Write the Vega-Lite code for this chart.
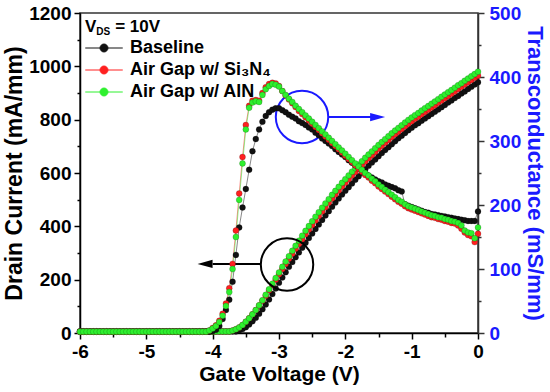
{
"$schema": "https://vega.github.io/schema/vega-lite/v6.json",
"width": 398, "height": 320,
"autosize": {"type": "none"},
"padding": {"left": 80, "top": 13, "right": 72, "bottom": 59},
"config": {"font": "Liberation Sans", "view": {"stroke": "#333", "strokeWidth": 1.5}},
"datasets": {
"id": [
{"v":-6,"a":6,"b":6,"c":6},{"v":-5.95,"a":6,"b":6,"c":6},{"v":-5.9,"a":6,"b":6,"c":6},{"v":-5.85,"a":6,"b":6,"c":6},{"v":-5.8,"a":6,"b":6,"c":6},{"v":-5.75,"a":6,"b":6,"c":6},{"v":-5.7,"a":6,"b":6,"c":6},{"v":-5.65,"a":6,"b":6,"c":6},{"v":-5.6,"a":6,"b":6,"c":6},{"v":-5.55,"a":6,"b":6,"c":6},
{"v":-5.5,"a":6,"b":6,"c":6},{"v":-5.45,"a":6,"b":6,"c":6},{"v":-5.4,"a":6,"b":6,"c":6},{"v":-5.35,"a":6,"b":6,"c":6},{"v":-5.3,"a":6,"b":6,"c":6},{"v":-5.25,"a":6,"b":6,"c":6},{"v":-5.2,"a":6,"b":6,"c":6},{"v":-5.15,"a":6,"b":6,"c":6},{"v":-5.1,"a":6,"b":6,"c":6},{"v":-5.05,"a":6,"b":6,"c":6},
{"v":-5,"a":6,"b":6,"c":6},{"v":-4.95,"a":6,"b":6,"c":6},{"v":-4.9,"a":6,"b":6,"c":6},{"v":-4.85,"a":6,"b":6,"c":6},{"v":-4.8,"a":6,"b":6,"c":6},{"v":-4.75,"a":6,"b":6,"c":6},{"v":-4.7,"a":6,"b":6,"c":6},{"v":-4.65,"a":6,"b":6,"c":6},{"v":-4.6,"a":6,"b":6,"c":6},{"v":-4.55,"a":6,"b":6,"c":6},
{"v":-4.5,"a":6,"b":6,"c":6},{"v":-4.45,"a":6,"b":6,"c":6},{"v":-4.4,"a":6,"b":6,"c":6},{"v":-4.35,"a":6,"b":6,"c":6},{"v":-4.3,"a":6,"b":6,"c":6},{"v":-4.25,"a":6,"b":6,"c":6},{"v":-4.2,"a":6,"b":6,"c":6},{"v":-4.15,"a":6,"b":6,"c":6},{"v":-4.1,"a":6,"b":6,"c":6},{"v":-4.05,"a":6,"b":6,"c":6},
{"v":-4,"a":6,"b":6,"c":6},{"v":-3.95,"a":6,"b":6,"c":6},{"v":-3.9,"a":6,"b":6,"c":6},{"v":-3.85,"a":6,"b":6,"c":6},{"v":-3.8,"a":6,"b":6,"c":6},{"v":-3.75,"a":6,"b":6,"c":6},{"v":-3.7,"a":6,"b":9,"c":9},{"v":-3.65,"a":6,"b":14,"c":14},{"v":-3.6,"a":10,"b":21,"c":21},{"v":-3.55,"a":15,"b":30,"c":30},
{"v":-3.5,"a":22,"b":42,"c":42},{"v":-3.45,"a":32,"b":55,"c":55},{"v":-3.4,"a":44,"b":70,"c":70},{"v":-3.35,"a":57,"b":86,"c":86},{"v":-3.3,"a":72,"b":103,"c":104},{"v":-3.25,"a":89,"b":121,"c":123},{"v":-3.2,"a":107,"b":140,"c":143},{"v":-3.15,"a":126,"b":160,"c":164},{"v":-3.1,"a":146,"b":180,"c":185},{"v":-3.05,"a":167,"b":200,"c":206},
{"v":-3,"a":188,"b":220,"c":227},{"v":-2.95,"a":208,"b":240,"c":248},{"v":-2.9,"a":228,"b":259,"c":268},{"v":-2.85,"a":248,"b":278,"c":288},{"v":-2.8,"a":266,"b":297,"c":308},{"v":-2.75,"a":284,"b":316,"c":327},{"v":-2.7,"a":302,"b":334,"c":346},{"v":-2.65,"a":320,"b":352,"c":365},{"v":-2.6,"a":338,"b":370,"c":383},{"v":-2.55,"a":356,"b":388,"c":401},
{"v":-2.5,"a":373,"b":405,"c":419},{"v":-2.45,"a":390,"b":422,"c":436},{"v":-2.4,"a":407,"b":439,"c":453},{"v":-2.35,"a":424,"b":456,"c":470},{"v":-2.3,"a":441,"b":472,"c":486},{"v":-2.25,"a":457,"b":488,"c":502},{"v":-2.2,"a":473,"b":504,"c":518},{"v":-2.15,"a":489,"b":519,"c":533},{"v":-2.1,"a":504,"b":534,"c":548},{"v":-2.05,"a":519,"b":549,"c":563},
{"v":-2,"a":533,"b":563,"c":577},{"v":-1.95,"a":547,"b":577,"c":591},{"v":-1.9,"a":561,"b":591,"c":605},{"v":-1.85,"a":575,"b":604,"c":618},{"v":-1.8,"a":588,"b":617,"c":631},{"v":-1.75,"a":601,"b":630,"c":644},{"v":-1.7,"a":614,"b":643,"c":657},{"v":-1.65,"a":627,"b":655,"c":669},{"v":-1.6,"a":639,"b":667,"c":681},{"v":-1.55,"a":651,"b":679,"c":693},
{"v":-1.5,"a":663,"b":691,"c":705},{"v":-1.45,"a":675,"b":702,"c":716},{"v":-1.4,"a":686,"b":713,"c":727},{"v":-1.35,"a":697,"b":724,"c":738},{"v":-1.3,"a":708,"b":735,"c":749},{"v":-1.25,"a":719,"b":745,"c":759},{"v":-1.2,"a":730,"b":755,"c":769},{"v":-1.15,"a":740,"b":765,"c":779},{"v":-1.1,"a":750,"b":775,"c":789},{"v":-1.05,"a":760,"b":785,"c":799},
{"v":-1,"a":770,"b":794,"c":808},{"v":-0.95,"a":779,"b":803,"c":817},{"v":-0.9,"a":787,"b":811,"c":825},{"v":-0.85,"a":796,"b":820,"c":834},{"v":-0.8,"a":804,"b":829,"c":843},{"v":-0.75,"a":813,"b":837,"c":851},{"v":-0.7,"a":821,"b":846,"c":860},{"v":-0.65,"a":830,"b":854,"c":868},{"v":-0.6,"a":838,"b":863,"c":877},{"v":-0.55,"a":847,"b":872,"c":886},
{"v":-0.5,"a":855,"b":880,"c":894},{"v":-0.45,"a":864,"b":889,"c":903},{"v":-0.4,"a":872,"b":897,"c":911},{"v":-0.35,"a":881,"b":906,"c":920},{"v":-0.3,"a":889,"b":915,"c":929},{"v":-0.25,"a":898,"b":923,"c":937},{"v":-0.2,"a":906,"b":932,"c":946},{"v":-0.15,"a":915,"b":940,"c":954},{"v":-0.1,"a":923,"b":949,"c":963},{"v":-0.05,"a":932,"b":957,"c":971},
{"v":0,"a":940,"b":965,"c":980}
],
"gm": [
{"v":-6,"a":2,"b":2,"c":2},{"v":-5.95,"a":2,"b":2,"c":2},{"v":-5.9,"a":2,"b":2,"c":2},{"v":-5.85,"a":2,"b":2,"c":2},{"v":-5.8,"a":2,"b":2,"c":2},{"v":-5.75,"a":2,"b":2,"c":2},{"v":-5.7,"a":2,"b":2,"c":2},{"v":-5.65,"a":2,"b":2,"c":2},{"v":-5.6,"a":2,"b":2,"c":2},{"v":-5.55,"a":2,"b":2,"c":2},
{"v":-5.5,"a":2,"b":2,"c":2},{"v":-5.45,"a":2,"b":2,"c":2},{"v":-5.4,"a":2,"b":2,"c":2},{"v":-5.35,"a":2,"b":2,"c":2},{"v":-5.3,"a":2,"b":2,"c":2},{"v":-5.25,"a":2,"b":2,"c":2},{"v":-5.2,"a":2,"b":2,"c":2},{"v":-5.15,"a":2,"b":2,"c":2},{"v":-5.1,"a":2,"b":2,"c":2},{"v":-5.05,"a":2,"b":2,"c":2},
{"v":-5,"a":2,"b":2,"c":2},{"v":-4.95,"a":2,"b":2,"c":2},{"v":-4.9,"a":2,"b":2,"c":2},{"v":-4.85,"a":2,"b":2,"c":2},{"v":-4.8,"a":2,"b":2,"c":2},{"v":-4.75,"a":2,"b":2,"c":2},{"v":-4.7,"a":2,"b":2,"c":2},{"v":-4.65,"a":2,"b":2,"c":2},{"v":-4.6,"a":2,"b":2,"c":2},{"v":-4.55,"a":2,"b":2,"c":2},
{"v":-4.5,"a":2,"b":2,"c":2},{"v":-4.45,"a":2,"b":2,"c":2},{"v":-4.4,"a":2,"b":2,"c":2},{"v":-4.35,"a":2,"b":2,"c":2},{"v":-4.3,"a":2,"b":2,"c":2},{"v":-4.25,"a":2,"b":2,"c":2},{"v":-4.2,"a":2,"b":2,"c":2},{"v":-4.15,"a":2,"b":2,"c":2},{"v":-4.1,"a":2,"b":2,"c":2},{"v":-4.05,"a":2,"b":4,"c":4},
{"v":-4,"a":3,"b":8,"c":7},{"v":-3.95,"a":5,"b":12,"c":11},{"v":-3.9,"a":11,"b":19,"c":17},{"v":-3.85,"a":22,"b":30,"c":27},{"v":-3.8,"a":36,"b":46,"c":42},{"v":-3.75,"a":52,"b":70,"c":64},{"v":-3.7,"a":80,"b":108,"c":100},{"v":-3.65,"a":122,"b":160,"c":150},{"v":-3.6,"a":165,"b":218,"c":208},{"v":-3.55,"a":196,"b":275,"c":265},
{"v":-3.5,"a":225,"b":325,"c":318},{"v":-3.45,"a":255,"b":355,"c":352},{"v":-3.4,"a":284,"b":363,"c":360},{"v":-3.35,"a":303,"b":364,"c":362},{"v":-3.3,"a":318,"b":363,"c":361},{"v":-3.25,"a":330,"b":375,"c":372},{"v":-3.2,"a":339,"b":384,"c":381},{"v":-3.15,"a":345,"b":389,"c":386},{"v":-3.1,"a":349,"b":391,"c":389},{"v":-3.05,"a":351,"b":390,"c":388},
{"v":-3,"a":351,"b":386,"c":385},{"v":-2.95,"a":348,"b":378,"c":378},{"v":-2.9,"a":345,"b":371,"c":372},{"v":-2.85,"a":341,"b":365,"c":366},{"v":-2.8,"a":338,"b":359,"c":361},{"v":-2.75,"a":335,"b":353,"c":355},{"v":-2.7,"a":331,"b":347,"c":350},{"v":-2.65,"a":328,"b":342,"c":345},{"v":-2.6,"a":325,"b":337,"c":340},{"v":-2.55,"a":321,"b":332,"c":335},
{"v":-2.5,"a":318,"b":327,"c":330},{"v":-2.45,"a":313,"b":322,"c":325},{"v":-2.4,"a":309,"b":317,"c":320},{"v":-2.35,"a":304,"b":312,"c":315},{"v":-2.3,"a":300,"b":307,"c":310},{"v":-2.25,"a":296,"b":302,"c":305},{"v":-2.2,"a":292,"b":297,"c":300},{"v":-2.15,"a":287,"b":292,"c":295},{"v":-2.1,"a":283,"b":287,"c":290},{"v":-2.05,"a":279,"b":282,"c":285},
{"v":-2,"a":275,"b":277,"c":280},{"v":-1.95,"a":270,"b":272,"c":275},{"v":-1.9,"a":266,"b":267,"c":270},{"v":-1.85,"a":262,"b":262,"c":265},{"v":-1.8,"a":258,"b":257,"c":260},{"v":-1.75,"a":254,"b":252,"c":255},{"v":-1.7,"a":250,"b":247,"c":250},{"v":-1.65,"a":246,"b":243,"c":246},{"v":-1.6,"a":243,"b":238,"c":241},{"v":-1.55,"a":240,"b":234,"c":237},
{"v":-1.5,"a":237,"b":229,"c":232},{"v":-1.45,"a":235,"b":225,"c":228},{"v":-1.4,"a":232,"b":221,"c":224},{"v":-1.35,"a":230,"b":217,"c":220},{"v":-1.3,"a":228,"b":213,"c":216},{"v":-1.25,"a":226,"b":209,"c":212},{"v":-1.2,"a":223,"b":205,"c":208},{"v":-1.15,"a":221,"b":202,"c":205},{"v":-1.1,"a":201,"b":198,"c":201},{"v":-1.05,"a":199,"b":195,"c":198},
{"v":-1,"a":197,"b":193,"c":196},{"v":-0.95,"a":195,"b":191,"c":194},{"v":-0.9,"a":193,"b":189,"c":192},{"v":-0.85,"a":191,"b":187,"c":190},{"v":-0.8,"a":189,"b":185,"c":188},{"v":-0.75,"a":188,"b":183,"c":186},{"v":-0.7,"a":186,"b":181,"c":184},{"v":-0.65,"a":185,"b":180,"c":183},{"v":-0.6,"a":184,"b":178,"c":181},{"v":-0.55,"a":183,"b":177,"c":180},
{"v":-0.5,"a":182,"b":175,"c":178},{"v":-0.45,"a":181,"b":174,"c":177},{"v":-0.4,"a":180,"b":172,"c":175},{"v":-0.35,"a":179,"b":171,"c":174},{"v":-0.3,"a":178,"b":168,"c":172},{"v":-0.25,"a":177,"b":163,"c":168},{"v":-0.2,"a":176,"b":157,"c":160},{"v":-0.15,"a":175,"b":153,"c":157},{"v":-0.1,"a":175,"b":151,"c":156},{"v":-0.05,"a":175,"b":142,"c":148},
{"v":0,"a":190,"b":155,"c":165}
]
},
"encoding": {
  "x": {"field": "v", "type": "quantitative", "scale": {"domain": [-6, 0], "nice": false, "zero": false},
    "axis": {"title": "Gate Voltage (V)", "values": [-6,-5.5,-5,-4.5,-4,-3.5,-3,-2.5,-2,-1.5,-1,-0.5,0],
      "labelExpr": "datum.value % 1 === 0 ? '' + datum.value : ''",
      "tickSize": {"condition": {"test": "datum.value % 1 === 0", "value": 6}, "value": 4},
      "labelFontSize": 19, "labelFontWeight": "bold", "labelColor": "#000", "labelPadding": 3, "labelFlush": false,
      "titleFontSize": 21, "titleFontWeight": "bold", "titleColor": "#000", "titlePadding": 2,
      "domainColor": "#000", "domainWidth": 1.5, "tickColor": "#000", "tickWidth": 1.5, "grid": false}}
},
"layer": [
  {
    "encoding": {"y": {"field": "y", "type": "quantitative", "scale": {"domain": [0, 1200], "nice": false},
      "axis": {"title": "Drain Current (mA/mm)", "values": [0,100,200,300,400,500,600,700,800,900,1000,1100,1200], "format": "d",
        "labelExpr": "datum.value % 200 === 0 ? datum.label : ''",
        "tickSize": {"condition": {"test": "datum.value % 200 === 0", "value": 6}, "value": 3},
        "labelFontSize": 19, "labelFontWeight": "bold", "labelColor": "#000", "labelPadding": 3,
        "titleFontSize": 23, "titleFontWeight": "bold", "titleColor": "#000", "titlePadding": 2,
        "domainColor": "#000", "domainWidth": 1.5, "tickColor": "#000", "tickWidth": 1.5, "grid": false}}},
    "layer": [
      {"data": {"name": "id"}, "transform": [{"fold": ["a", "b", "c"], "as": ["s", "y"]}],
       "mark": {"type": "line", "strokeWidth": 1, "opacity": 0.5},
       "encoding": {"color": {"field": "s", "type": "nominal", "scale": {"domain": ["a", "b", "c"], "range": ["#111111", "#ff2020", "#2ef02e"]},
         "legend": {"orient": "none", "legendX": 15, "legendY": 26, "title": null,
           "labelExpr": "datum.value === 'a' ? 'Baseline' : datum.value === 'b' ? 'Air Gap w/ Si₃N₄' : 'Air Gap w/ AlN'",
           "labelFontSize": 18, "labelFontWeight": "bold", "labelColor": "#000", "labelFont": "Liberation Sans",
           "symbolType": "M-2.5,0L2.5,0M-0.53,0A0.53,0.53,0,1,1,0.53,0A0.53,0.53,0,1,1,-0.53,0",
           "symbolSize": 225, "symbolStrokeWidth": 1, "symbolOpacity": 1, "labelOffset": 17, "rowPadding": 4}}}},
      {"data": {"name": "id"}, "transform": [{"fold": ["a", "b", "c"], "as": ["s", "y"]}],
       "mark": {"type": "point", "shape": "circle", "filled": true, "size": 36, "opacity": 1, "stroke": "#000", "strokeWidth": 0.5, "strokeOpacity": 0.35},
       "encoding": {"color": {"field": "s", "type": "nominal"}, "order": {"field": "s", "type": "ordinal"}}},
      {"data": {"values": [{"v": -2.653, "y": 810}]},
       "mark": {"type": "point", "shape": "circle", "size": 2750, "filled": false, "stroke": "#1a1aff", "strokeWidth": 2, "opacity": 1}},
      {"data": {"values": [{"v": -2.26, "v2": -1.52, "y": 810}]},
       "mark": {"type": "rule", "stroke": "#1a1aff", "strokeWidth": 2},
       "encoding": {"x2": {"field": "v2"}}},
      {"data": {"values": [{"v": -1.513, "y": 810}]},
       "mark": {"type": "point", "shape": "M-1,-0.55L1,0L-1,0.55Z", "size": 225, "filled": true, "color": "#1a1aff", "opacity": 1}},
      {"data": {"values": [{"v": -2.879, "y": 257}]},
       "mark": {"type": "point", "shape": "circle", "size": 2750, "filled": false, "stroke": "#000", "strokeWidth": 2, "opacity": 1}},
      {"data": {"values": [{"v": -3.27, "v2": -4.0, "y": 259}]},
       "mark": {"type": "rule", "stroke": "#000", "strokeWidth": 2},
       "encoding": {"x2": {"field": "v2"}}},
      {"data": {"values": [{"v": -4.115, "y": 259}]},
       "mark": {"type": "point", "shape": "M1,-0.55L-1,0L1,0.55Z", "size": 225, "filled": true, "color": "#000", "opacity": 1}},
      {"data": {"values": [{"v": -5.925, "y": 1147}]},
       "mark": {"type": "text", "text": "V", "align": "left", "baseline": "middle", "fontSize": 17, "fontWeight": "bold", "color": "#000"}},
      {"data": {"values": [{"v": -5.755, "y": 1127}]},
       "mark": {"type": "text", "text": "DS", "align": "left", "baseline": "middle", "fontSize": 10, "fontWeight": "bold", "color": "#000"}},
      {"data": {"values": [{"v": -5.47, "y": 1147}]},
       "mark": {"type": "text", "text": "= 10V", "align": "left", "baseline": "middle", "fontSize": 17, "fontWeight": "bold", "color": "#000"}}
    ]
  },
  {
    "data": {"name": "gm"},
    "transform": [{"fold": ["a", "b", "c"], "as": ["s", "y"]}],
    "encoding": {"y": {"field": "y", "type": "quantitative", "scale": {"domain": [0, 500], "nice": false},
      "axis": {"orient": "right", "title": "Transconductance (mS/mm)", "values": [0,50,100,150,200,250,300,350,400,450,500], "format": "d",
        "labelExpr": "datum.value % 100 === 0 ? datum.label : ''",
        "tickSize": {"condition": {"test": "datum.value % 100 === 0", "value": 6}, "value": 3},
        "labelFontSize": 19, "labelFontWeight": "bold", "labelColor": "#1a1aff", "labelPadding": 5,
        "titleFontSize": 22, "titleFontWeight": "bold", "titleColor": "#1a1aff", "titlePadding": 2,
        "domainColor": "#333", "domainWidth": 1.5, "tickColor": "#333", "tickWidth": 1.5, "grid": false}},
      "color": {"field": "s", "type": "nominal"}},
    "layer": [
      {"mark": {"type": "line", "strokeWidth": 1, "opacity": 0.5}},
      {"mark": {"type": "point", "shape": "circle", "filled": true, "size": 36, "opacity": 1, "stroke": "#000", "strokeWidth": 0.5, "strokeOpacity": 0.35},
       "encoding": {"order": {"field": "s", "type": "ordinal"}}}
    ]
  }
],
"resolve": {"scale": {"y": "independent"}}
}
